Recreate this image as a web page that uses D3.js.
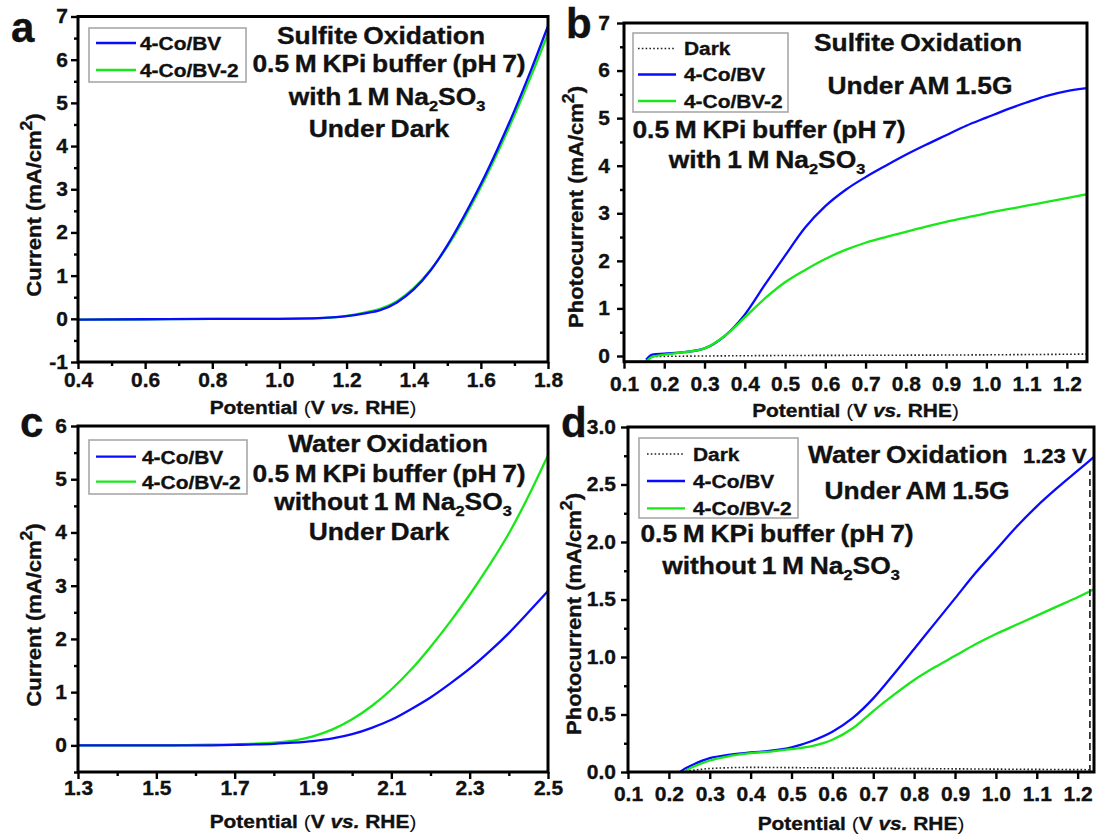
<!DOCTYPE html>
<html>
<head>
<meta charset="utf-8">
<script src="https://cdn.jsdelivr.net/npm/d3@7"></script>
<style>
  body { margin: 0; background: #fff; }
  svg { display: block; font-family: "Liberation Sans", Arial, sans-serif; font-weight: bold; }
  svg text { stroke: #111; stroke-width: 0.35px; }
</style>
</head>
<body>
<svg id="fig" width="1099" height="835"></svg>
<script>
// ---- data ----
// a: sulfite oxidation, dark
const aX    = [0.4, 0.6, 0.8, 1.0, 1.1, 1.2, 1.25, 1.3, 1.35, 1.4, 1.45, 1.5, 1.55, 1.6, 1.65, 1.7, 1.75, 1.8];
const aBV   = [-0.02, -0.01, 0, 0, 0.01, 0.06, 0.12, 0.2, 0.38, 0.68, 1.12, 1.7, 2.38, 3.12, 3.94, 4.82, 5.77, 6.78];
const aBV2  = [-0.02, -0.01, 0, 0, 0.01, 0.07, 0.14, 0.23, 0.41, 0.71, 1.13, 1.67, 2.32, 3.05, 3.85, 4.71, 5.63, 6.6];

// b: sulfite oxidation, AM 1.5G
const bX    = [0.155, 0.17, 0.2, 0.25, 0.3, 0.35, 0.4, 0.45, 0.5, 0.55, 0.6, 0.65, 0.7, 0.75, 0.8, 0.85, 0.9, 0.95, 1.0, 1.05, 1.1, 1.15, 1.2, 1.25];
const bBV   = [-0.08, 0.03, 0.05, 0.08, 0.16, 0.42, 0.87, 1.5, 2.11, 2.7, 3.15, 3.49, 3.76, 4.0, 4.23, 4.44, 4.64, 4.84, 5.01, 5.18, 5.33, 5.47, 5.57, 5.63];
const bBV2  = [-0.12, -0.02, 0.03, 0.08, 0.16, 0.42, 0.81, 1.21, 1.55, 1.81, 2.04, 2.23, 2.38, 2.5, 2.61, 2.72, 2.82, 2.91, 3.0, 3.08, 3.16, 3.24, 3.32, 3.4];
const bDarkX = [0.17, 0.3, 0.5, 0.7, 0.9, 1.1, 1.25];
const bDark  = [-0.01, 0.0, 0.01, 0.015, 0.02, 0.03, 0.04];

// c: water oxidation, dark
const cX    = [1.3, 1.4, 1.5, 1.6, 1.7, 1.8, 1.85, 1.9, 1.95, 2.0, 2.05, 2.1, 2.15, 2.2, 2.25, 2.3, 2.35, 2.4, 2.45, 2.5];
const cBV   = [0, 0, 0, 0, 0.01, 0.03, 0.05, 0.08, 0.13, 0.21, 0.33, 0.48, 0.68, 0.9, 1.16, 1.44, 1.76, 2.11, 2.5, 2.9];
const cBV2  = [0, 0, 0, 0.01, 0.02, 0.05, 0.09, 0.17, 0.3, 0.49, 0.74, 1.05, 1.42, 1.85, 2.32, 2.83, 3.38, 3.98, 4.68, 5.45];

// d: water oxidation, AM 1.5G
const dX    = [0.227, 0.24, 0.26, 0.3, 0.35, 0.4, 0.45, 0.5, 0.55, 0.6, 0.65, 0.7, 0.75, 0.8, 0.85, 0.9, 0.95, 1.0, 1.05, 1.1, 1.15, 1.2, 1.24];
const dBV   = [0, 0.03, 0.065, 0.12, 0.15, 0.17, 0.185, 0.215, 0.27, 0.35, 0.47, 0.64, 0.85, 1.07, 1.29, 1.51, 1.73, 1.93, 2.13, 2.31, 2.47, 2.62, 2.74];
const dBV2  = [null, 0.01, 0.045, 0.1, 0.14, 0.165, 0.178, 0.2, 0.225, 0.28, 0.38, 0.53, 0.67, 0.8, 0.91, 1.01, 1.11, 1.2, 1.28, 1.36, 1.44, 1.52, 1.59];
const dDarkX = [0.25, 0.3, 0.4, 0.5, 0.6, 0.8, 1.0, 1.23];
const dDark  = [0.01, 0.03, 0.04, 0.038, 0.035, 0.03, 0.025, 0.02];
const dMarker = 1.23;

const BLUE = '#0a0aff';
const GREEN = '#18e818';
const SX = 1.1;   // glyphs in the figure run a bit wide
const TICK_SX = 1.05;

const svg = d3.select('#fig');

// text with sub/superscripts, italics etc.
function rich(g, x, y, parts, size, anchor, rot) {
  const t = g.append('text')
    .attr('transform', `translate(${x},${y}) rotate(${rot || 0}) scale(${SX},1)`)
    .attr('font-size', size)
    .attr('text-anchor', anchor || 'middle')
    .attr('fill', '#111');
  let shift = 0;
  parts.forEach(p => {
    const [str, kind] = typeof p === 'string' ? [p, ''] : p;
    const s = t.append('tspan').text(str);
    let target = 0;
    if (kind === 'sub') { s.attr('font-size', size * 0.62); target = size * 0.24; }
    if (kind === 'sup') { s.attr('font-size', size * 0.8); target = -size * 0.45; }
    if (kind === 'it') s.attr('font-style', 'italic');
    if (kind === 'thin') s.attr('font-weight', 'normal').style('stroke-width', 0);
    if (target !== shift) { s.attr('dy', target - shift); shift = target; }
  });
  return t;
}

const NA2SO3 = ['Na', ['2', 'sub'], 'SO', ['3', 'sub']];

const panels = [
  {
    left: 78, right: 548, top: 16.5, bottom: 362,
    xDomain: [0.4, 1.8], yDomain: [-1, 7],
    xMajor: d3.range(0.4, 1.81, 0.2), xMinor: d3.range(0.5, 1.8, 0.2),
    yMajor: d3.range(-1, 7.1, 1), yMinor: d3.range(-0.5, 7, 1),
    xFmt: d3.format('.1f'), yFmt: d => String(d), xPad: 4, yPad: 3,
    series: [
      { xs: aX, ys: aBV2, color: GREEN },
      { xs: aX, ys: aBV, color: BLUE }
    ],
    letter: ['a', 11, 42],
    legend: { x: 89, y: 28, w: 157, h: 54, lx: [96, 136], tx: 140,
      rows: [['4-Co/BV', BLUE, 43, false], ['4-Co/BV-2', GREEN, 70, false]] },
    notes: [
      [['Sulfite Oxidation'], 381, 44, 'middle'],
      [['0.5 M KPi buffer (pH 7)'], 389, 72, 'middle'],
      [['with 1 M '].concat(NA2SO3), 387, 105, 'middle'],
      [['Under Dark'], 379, 137, 'middle']
    ],
    yTitle: ['Current ', 41, 205], xTitleY: 414
  },
  {
    left: 624, right: 1087, top: 23, bottom: 361.7,
    xDomain: [0.1, 1.25], yDomain: [-0.12, 7],
    xMajor: d3.range(0.1, 1.26, 0.1), xMinor: [],
    yMajor: d3.range(0, 7.1, 1), yMinor: d3.range(0.5, 7, 1),
    xFmt: d3.format('.1f'), yFmt: d => String(d), xPad: 8, yPad: 7,
    series: [
      { xs: bDarkX, ys: bDark, color: '#222', dark: true },
      { xs: bX, ys: bBV, color: BLUE },
      { xs: bX, ys: bBV2, color: GREEN }
    ],
    letter: ['b', 566, 38],
    legend: { x: 633, y: 33, w: 155, h: 79, lx: [638, 676], tx: 684,
      rows: [['Dark', '#222', 48.5, true], ['4-Co/BV', BLUE, 74.5, false], ['4-Co/BV-2', GREEN, 101, false]] },
    notes: [
      [['Sulfite Oxidation'], 918, 51, 'middle'],
      [['Under AM 1.5G'], 920, 94, 'middle'],
      [['0.5 M KPi buffer (pH 7)'], 769, 138, 'middle'],
      [['with 1 M '].concat(NA2SO3), 767, 168, 'middle']
    ],
    yTitle: ['Photocurrent ', 583, 207], xTitleY: 417
  },
  {
    left: 78, right: 548, top: 426, bottom: 772,
    xDomain: [1.3, 2.5], yDomain: [-0.5, 6],
    xMajor: d3.range(1.3, 2.51, 0.2), xMinor: d3.range(1.4, 2.5, 0.2),
    yMajor: d3.range(0, 6.1, 1), yMinor: d3.range(-0.5, 6, 1),
    xFmt: d3.format('.1f'), yFmt: d => String(d), xPad: 2, yPad: 4,
    series: [
      { xs: cX, ys: cBV2, color: GREEN },
      { xs: cX, ys: cBV, color: BLUE }
    ],
    letter: ['c', 20, 437],
    legend: { x: 89, y: 440, w: 158, h: 54, lx: [96, 136], tx: 142,
      rows: [['4-Co/BV', BLUE, 456.7, false], ['4-Co/BV-2', GREEN, 481.7, false]] },
    notes: [
      [['Water Oxidation'], 388, 452, 'middle'],
      [['0.5 M KPi buffer (pH 7)'], 389, 482, 'middle'],
      [['without 1 M '].concat(NA2SO3), 393, 510, 'middle'],
      [['Under Dark'], 379, 540, 'middle']
    ],
    yTitle: ['Current ', 41, 615], xTitleY: 828
  },
  {
    left: 628, right: 1094, top: 427, bottom: 772,
    xDomain: [0.1, 1.24], yDomain: [0, 3],
    xMajor: d3.range(0.1, 1.21, 0.1), xMinor: [],
    yMajor: d3.range(0, 3.01, 0.5), yMinor: d3.range(0.25, 3, 0.5),
    xFmt: d3.format('.1f'), yFmt: d3.format('.1f'), xPad: 8, yPad: 5,
    series: [
      { xs: dDarkX, ys: dDark, color: '#222', dark: true },
      { xs: dX, ys: dBV, color: BLUE },
      { xs: dX, ys: dBV2, color: GREEN }
    ],
    marker: dMarker,
    letter: ['d', 561, 437],
    legend: { x: 639, y: 438, w: 159, h: 80, lx: [647, 685], tx: 693,
      rows: [['Dark', '#222', 454, true], ['4-Co/BV', BLUE, 481, false], ['4-Co/BV-2', GREEN, 508.3, false]] },
    notes: [
      [['Water Oxidation'], 808, 463, 'start'],
      [['0.5 M KPi buffer (pH 7)'], 777, 542, 'middle'],
      [['without 1 M '].concat(NA2SO3), 781, 574, 'middle'],
      [['Under AM 1.5G'], 917, 499, 'middle']
    ],
    extra: [['1.23 V'], 1023, 463, 'start', 20],
    yTitle: ['Photocurrent ', 581, 614], xTitleY: 830
  }
];

function styleAxis(g, size) {
  g.select('.domain').remove();
  g.selectAll('line').attr('stroke', '#000').attr('stroke-width', 2.4);
  g.selectAll('text')
    .attr('font-family', '"Liberation Sans", Arial, sans-serif')
    .attr('font-weight', 'bold')
    .attr('font-size', size)
    .attr('fill', '#111');
}

function drawPanel(p) {
  const g = svg.append('g');
  const x = d3.scaleLinear().domain(p.xDomain).range([p.left, p.right]);
  const y = d3.scaleLinear().domain(p.yDomain).range([p.bottom, p.top]);

  // minor ticks
  const xm = g.append('g').attr('transform', `translate(0,${p.bottom})`)
    .call(d3.axisBottom(x).tickValues(p.xMinor).tickSize(4).tickFormat(''));
  styleAxis(xm, 20);
  const ym = g.append('g').attr('transform', `translate(${p.left},0)`)
    .call(d3.axisLeft(y).tickValues(p.yMinor).tickSize(4).tickFormat(''));
  styleAxis(ym, 20);

  // major ticks + labels
  const xa = g.append('g').attr('transform', `translate(0,${p.bottom})`)
    .call(d3.axisBottom(x).tickValues(p.xMajor).tickSize(7).tickPadding(p.xPad).tickFormat(p.xFmt));
  styleAxis(xa, 20);
  xa.selectAll('text').attr('transform', `scale(${TICK_SX},1)`);

  const ya = g.append('g').attr('transform', `translate(${p.left},0)`)
    .call(d3.axisLeft(y).tickValues(p.yMajor).tickSize(7).tickPadding(p.yPad).tickFormat(p.yFmt));
  styleAxis(ya, 20);
  ya.selectAll('text')
    .attr('x', -(7 + p.yPad) / TICK_SX)
    .attr('transform', `scale(${TICK_SX},1)`);

  // curves
  const line = d3.line()
    .defined(d => d[1] != null)
    .curve(d3.curveMonotoneX)
    .x(d => x(d[0]))
    .y(d => y(d[1]));

  p.series.forEach(s => {
    g.append('path')
      .datum(s.xs.map((v, i) => [v, s.ys[i]]))
      .attr('fill', 'none')
      .attr('stroke', s.color)
      .attr('stroke-width', s.dark ? 1.6 : 2.3)
      .attr('stroke-dasharray', s.dark ? '1.6,2.2' : null)
      .attr('d', line);
  });

  if (p.marker) {
    g.append('line')
      .attr('x1', x(p.marker)).attr('x2', x(p.marker))
      .attr('y1', y(0)).attr('y2', y(2.62))
      .attr('stroke', '#333').attr('stroke-width', 1.8)
      .attr('stroke-dasharray', '7,4');
  }

  // frame
  g.append('rect')
    .attr('x', p.left).attr('y', p.top)
    .attr('width', p.right - p.left).attr('height', p.bottom - p.top)
    .attr('fill', 'none').attr('stroke', '#000').attr('stroke-width', 3);

  // legend
  const L = p.legend;
  g.append('rect')
    .attr('x', L.x).attr('y', L.y).attr('width', L.w).attr('height', L.h)
    .attr('fill', 'none').attr('stroke', '#a8a8a8').attr('stroke-width', 1.6);
  L.rows.forEach(([label, color, ly, dark]) => {
    g.append('line')
      .attr('x1', L.lx[0]).attr('x2', L.lx[1]).attr('y1', ly).attr('y2', ly)
      .attr('stroke', color).attr('stroke-width', dark ? 1.6 : 2.3)
      .attr('stroke-dasharray', dark ? '1.6,2.2' : null);
    rich(g, L.tx, ly + 6.8, [label], 19, 'start');
  });

  // notes
  p.notes.forEach(([parts, nx, ny, anchor]) => {
    rich(g, nx, ny, parts, 24, anchor).attr('word-spacing', -1.5);
  });
  if (p.extra) {
    const [parts, nx, ny, anchor, size] = p.extra;
    rich(g, nx, ny, parts, size, anchor);
  }

  // panel letter
  g.append('text')
    .attr('x', p.letter[1]).attr('y', p.letter[2])
    .attr('font-size', 42).attr('fill', '#111')
    .text(p.letter[0]);

  // axis titles
  rich(g, (p.left + p.right) / 2, p.xTitleY,
    ['Potential ', ['(', 'thin'], 'V ', ['vs.', 'it'], ' RHE', [')', 'thin']], 19, 'middle');
  rich(g, p.yTitle[1], p.yTitle[2],
    [p.yTitle[0], '(mA/cm', ['2', 'sup'], ')'], 20, 'middle', -90);
}

panels.forEach(drawPanel);
</script>
</body>
</html>
